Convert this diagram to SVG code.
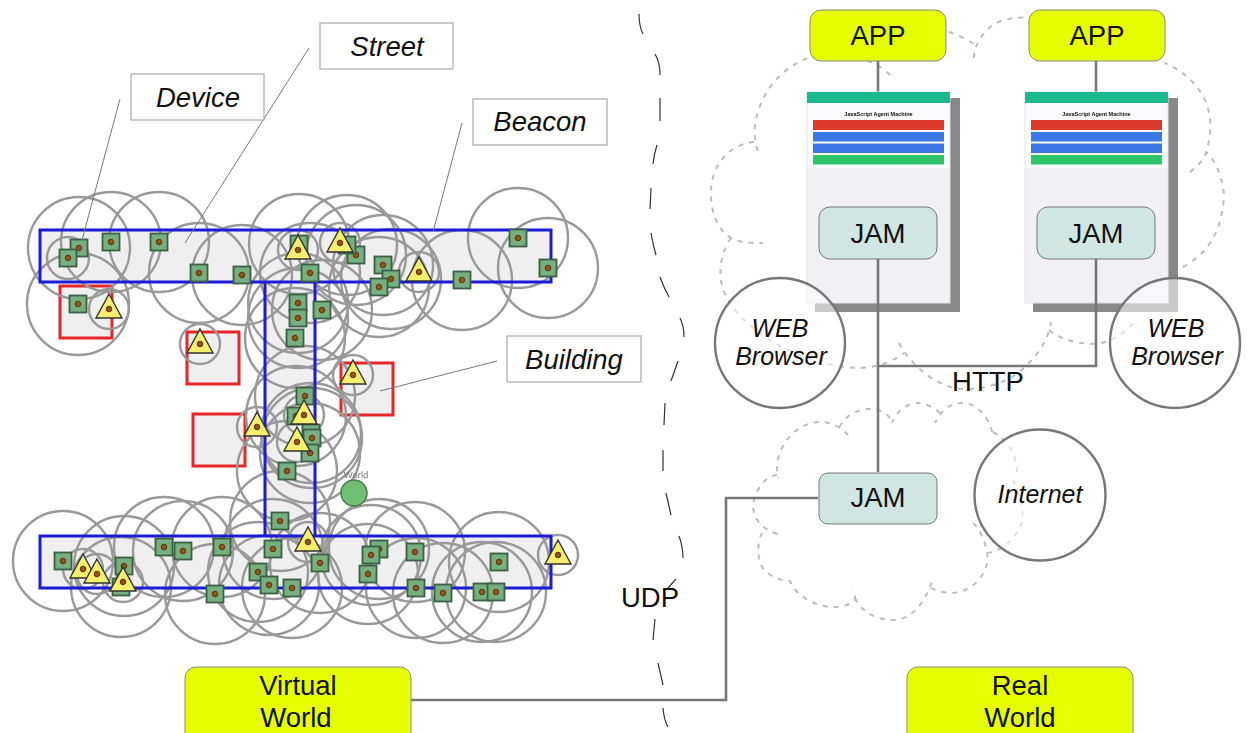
<svg xmlns="http://www.w3.org/2000/svg" width="1247" height="733" viewBox="0 0 1247 733">
<style>
text{font-family:"Liberation Sans",Arial,sans-serif;fill:#111;text-anchor:middle}
.t{font-size:27.5px}.i{font-size:27.5px;font-style:italic}.w{font-size:25px;font-style:italic}
.street{fill:#efefef;stroke:none}.streetline{fill:none;stroke:#1a1ad6;stroke-width:3}
.bld{fill:#efefef;stroke:#e8262a;stroke-width:3}
.rng{fill:none;stroke:#999;stroke-width:2.4}
.lab{fill:#fff;stroke:#aaa;stroke-width:1.2}
.lead{fill:none;stroke:#777;stroke-width:1}
.yb{fill:#e6ff00;stroke:#888;stroke-width:1}
.jam{fill:#cfe6e2;stroke:#777;stroke-width:1}
.con{fill:none;stroke:#777;stroke-width:2.6}
.cloud{fill:none;stroke:#bdbdbd;stroke-width:2;stroke-dasharray:5 6}
.div{fill:none;stroke:#333;stroke-width:1.2}
.big{fill:rgba(255,255,255,.55);stroke:#777;stroke-width:2.4}
.shadow{fill:#888}
</style>
<defs>
<filter id="soft" x="-5%" y="-5%" width="110%" height="110%"><feGaussianBlur stdDeviation="0.5"/></filter>
<g id="dev"><rect x="-8.5" y="-8.5" width="17" height="17" fill="#74b07e" stroke="#3a6045" stroke-width="1.8"/><circle r="2.8" fill="#8a5a12" stroke="#6b2a18" stroke-width="1"/></g>
<g id="bea"><path d="M0-15L13 9H-13Z" fill="#f6ef6e" stroke="#333" stroke-width="1.4"/><circle r="2.8" fill="#8a5a12" stroke="#6b2a18" stroke-width="1"/></g>
<g id="screen">
<rect x="8" y="6" width="145" height="214" class="shadow"/>
<g filter="url(#soft)">
<rect x="0" y="0" width="143" height="211" fill="#f0f0f5" stroke="#e2e2e6"/>
<rect x="0.5" y="10" width="142" height="66" fill="#fafafc"/>
<rect x="0" y="0" width="143" height="11" fill="#1ab88e"/>
<text x="71.500" y="23.500" style="font-size:5.500px;font-weight:bold" fill="#333">JavaScript Agent Machine</text>
<rect x="6" y="28" width="131" height="10" fill="#dd3a2e"/>
<rect x="6" y="40" width="131" height="9.500" fill="#3b78e6"/>
<rect x="6" y="51.500" width="131" height="9.500" fill="#3b78e6"/>
<rect x="6" y="63" width="131" height="9.500" fill="#2dc46b"/>
</g>
</g>
</defs>
<rect width="1247" height="733" fill="#fff"/>

<g id="world" filter="url(#soft)">
<g id="streets">
<rect class="street" x="40" y="230" width="511" height="52"/>
<rect class="street" x="265" y="282" width="50" height="254"/>
<rect class="street" x="40" y="536" width="511" height="52"/>
</g>
<g id="buildings">
<rect class="bld" x="60" y="286" width="52" height="52"/>
<rect class="bld" x="187" y="332" width="52" height="52"/>
<rect class="bld" x="341" y="363" width="52" height="52"/>
<rect class="bld" x="193" y="414" width="52" height="52"/>
</g>
<g id="ranges" class="rng">
<circle cx="79" cy="248" r="51"/><circle cx="68" cy="258" r="21"/><circle cx="111" cy="242" r="50"/><circle cx="159" cy="242" r="50"/><circle cx="199" cy="273" r="50"/><circle cx="242" cy="275" r="50"/><circle cx="78" cy="304" r="51"/><circle cx="109" cy="309" r="20"/><circle cx="200" cy="344" r="20"/>
<circle cx="298" cy="250" r="20"/><circle cx="299" cy="244" r="50"/><circle cx="340" cy="243" r="20"/><circle cx="347" cy="245" r="50"/><circle cx="356" cy="255" r="50"/><circle cx="383" cy="265" r="50"/><circle cx="391" cy="279" r="50"/><circle cx="379" cy="287" r="50"/><circle cx="419" cy="272" r="20"/><circle cx="462" cy="280" r="50"/><circle cx="518" cy="238" r="50"/><circle cx="548" cy="268" r="50"/><circle cx="322" cy="310" r="50"/><circle cx="310" cy="273" r="50"/><circle cx="353" cy="375" r="20"/>
<circle cx="298" cy="303" r="50"/><circle cx="298" cy="318" r="50"/><circle cx="295" cy="338" r="50"/><circle cx="305" cy="396" r="50"/><circle cx="296" cy="416" r="50"/><circle cx="304" cy="415" r="20"/><circle cx="297" cy="442" r="20"/><circle cx="311" cy="433" r="50"/><circle cx="312" cy="438" r="50"/><circle cx="310" cy="453" r="50"/><circle cx="287" cy="471" r="50"/><circle cx="257" cy="427" r="20"/><circle cx="280" cy="521" r="50"/>
<circle cx="63" cy="561" r="50"/><circle cx="83" cy="569" r="20"/><circle cx="97" cy="574" r="20"/><circle cx="124" cy="566" r="50"/><circle cx="123" cy="582" r="20"/><circle cx="121" cy="587" r="50"/><circle cx="164" cy="547" r="50"/><circle cx="183" cy="551" r="50"/><circle cx="222" cy="547" r="50"/><circle cx="215" cy="594" r="50"/><circle cx="273" cy="549" r="50"/><circle cx="258" cy="572" r="50"/><circle cx="269" cy="585" r="50"/><circle cx="292" cy="588" r="50"/><circle cx="308" cy="542" r="20"/>
<circle cx="320" cy="563" r="50"/><circle cx="379" cy="549" r="50"/><circle cx="371" cy="555" r="50"/><circle cx="368" cy="574" r="50"/><circle cx="415" cy="552" r="50"/><circle cx="416" cy="588" r="50"/><circle cx="443" cy="593" r="50"/><circle cx="482" cy="592" r="50"/><circle cx="496" cy="592" r="50"/><circle cx="499" cy="562" r="50"/><circle cx="558" cy="555" r="20"/>
</g>
<g id="street-outlines">
<path class="streetline" d="M265 282V536M315 282V536"/>
<rect class="streetline" x="40" y="230" width="511" height="52"/>
<rect class="streetline" x="40" y="536" width="511" height="52"/>
</g>
<g id="devices">
<use href="#dev" x="79" y="248"/><use href="#dev" x="68" y="258"/><use href="#dev" x="111" y="242"/><use href="#dev" x="159" y="242"/><use href="#dev" x="199" y="273"/><use href="#dev" x="242" y="275"/><use href="#dev" x="78" y="304"/>
<use href="#dev" x="299" y="244"/><use href="#dev" x="356" y="255"/><use href="#dev" x="383" y="265"/><use href="#dev" x="391" y="279"/><use href="#dev" x="379" y="287"/><use href="#dev" x="462" y="280"/><use href="#dev" x="518" y="238"/><use href="#dev" x="548" y="268"/><use href="#dev" x="322" y="310"/><use href="#dev" x="310" y="273"/><use href="#dev" x="347" y="245"/>
<use href="#dev" x="298" y="303"/><use href="#dev" x="298" y="318"/><use href="#dev" x="295" y="338"/><use href="#dev" x="305" y="396"/><use href="#dev" x="296" y="416"/><use href="#dev" x="311" y="433"/><use href="#dev" x="312" y="438"/><use href="#dev" x="310" y="453"/><use href="#dev" x="287" y="471"/><use href="#dev" x="280" y="521"/>
<use href="#dev" x="63" y="561"/><use href="#dev" x="124" y="566"/><use href="#dev" x="121" y="587"/><use href="#dev" x="164" y="547"/><use href="#dev" x="183" y="551"/><use href="#dev" x="222" y="547"/><use href="#dev" x="215" y="594"/><use href="#dev" x="273" y="549"/><use href="#dev" x="258" y="572"/><use href="#dev" x="269" y="585"/><use href="#dev" x="292" y="588"/>
<use href="#dev" x="320" y="563"/><use href="#dev" x="379" y="549"/><use href="#dev" x="371" y="555"/><use href="#dev" x="368" y="574"/><use href="#dev" x="415" y="552"/><use href="#dev" x="416" y="588"/><use href="#dev" x="443" y="593"/><use href="#dev" x="482" y="592"/><use href="#dev" x="496" y="592"/><use href="#dev" x="499" y="562"/>
</g>
<g id="beacons">
<use href="#bea" x="109" y="309"/><use href="#bea" x="200" y="344"/><use href="#bea" x="298" y="250"/><use href="#bea" x="340" y="243"/><use href="#bea" x="419" y="272"/><use href="#bea" x="353" y="375"/><use href="#bea" x="304" y="415"/><use href="#bea" x="297" y="442"/><use href="#bea" x="257" y="427"/><use href="#bea" x="83" y="569"/><use href="#bea" x="97" y="574"/><use href="#bea" x="123" y="582"/><use href="#bea" x="308" y="542"/><use href="#bea" x="558" y="555"/>
</g>
<g id="world-node"><circle cx="354" cy="493" r="13" fill="#6fbf73" stroke="#4a7d50" stroke-width="1.500"/><text x="356" y="478" style="font-size:9.500px;fill:#777">World</text></g>
</g>

<g id="leaders">
<path class="lead" d="M120 99L82 240M309 48L185 243M462 123L433 232M497 361L380 391"/>
</g>
<g id="label-device"><rect class="lab" x="131" y="74" width="133" height="46"/><text class="i" x="198" y="107">Device</text></g>
<g id="label-street"><rect class="lab" x="320" y="23" width="133" height="46"/><text class="i" x="387" y="56">Street</text></g>
<g id="label-beacon"><rect class="lab" x="473" y="99" width="134" height="46"/><text class="i" x="540" y="131">Beacon</text></g>
<g id="label-building"><rect class="lab" x="507" y="336" width="134" height="46"/><text class="i" x="574" y="369">Building</text></g>

<g id="divider">
<path class="div" d="M639 14Q639 26 643 34M655 54Q660 62 660 75M660 98V121M657 145Q654 154 653 164M651 188L650 209M651 233Q653 245 656 255M660 277Q664 288 669 297M680 318Q684 326 684 337M678 361L671 381M665 403L664 425M663 450V471M666 493L671 515M679 536Q683 547 683 558M676 579L668 588M655 619L653 640M658 663L663 685M663 708Q664 720 668 727"/>
</g>

<g id="clouds">
<path class="cloud" d="M890 75C870 55 835 52 811 57C785 65 760 90 755 125C754 135 755 145 759 154M754 142C725 145 710 170 711 195C711 215 720 232 731 238C740 243 752 243 763 243M731 238C722 250 718 270 722 285C730 320 790 365 858 368C875 368 892 362 904 353M899 343C907 358 925 380 954 388C975 392 1000 385 1015 375C1035 360 1048 342 1051 322M1049 330C1060 340 1085 346 1101 343C1115 340 1128 330 1136 320M1183 267C1205 255 1222 235 1224 195C1222 175 1215 160 1206 152M1190 172C1200 165 1206 155 1206 152C1212 135 1212 115 1205 100C1195 80 1180 70 1165 63M974 58C974 45 985 25 1004 20C1012 18 1020 17 1029 18M949 32C958 35 968 40 976 45"/>
<path class="cloud" d="M848 435C842 428 832 422 820 422C805 422 790 432 782 448C777 458 776 470 778 478M777 475C765 476 755 490 753 505C753 518 762 530 778 534M762 533C756 545 757 565 767 573C775 578 782 581 790 581C795 595 815 607 833 607C845 607 855 603 855 598C855 594 853 592 852 590M855 598C860 610 875 620 893 620C910 620 925 605 933 578M931 588C940 593 955 595 965 590C982 582 990 565 987 553C985 540 980 528 970 520M987 553C1000 552 1015 540 1022 523C1024 510 1020 495 1013 480M993 432C1008 440 1017 455 1017 473M992 432C990 420 978 403 963 403C953 403 945 407 940 415C938 418 936 420 935 423M940 413C935 408 925 403 918 403C908 403 897 410 892 423M890 418C885 412 878 409 870 409C858 409 845 415 839 428"/>
</g>

<g id="connectors">
<path class="con" d="M878 61V92M1096 61V92"/>
</g>

<g id="browser-screen-1"><use href="#screen" x="807" y="92"/></g>
<g id="browser-screen-2"><use href="#screen" x="1025" y="92"/></g>

<g id="connectors-2">
<path class="con" d="M878 259V472M1096 259V366H878M818 498H726V700H411"/>
</g>

<g id="app-1"><rect class="yb" x="810" y="10" width="136" height="51" rx="11"/><text class="t" x="878" y="45">APP</text></g>
<g id="app-2"><rect class="yb" x="1029" y="10" width="136" height="51" rx="11"/><text class="t" x="1097" y="45">APP</text></g>
<g id="jam-1"><rect class="jam" x="819" y="207" width="118" height="52" rx="11"/><text class="t" x="878" y="243">JAM</text></g>
<g id="jam-2"><rect class="jam" x="1037" y="207" width="118" height="52" rx="11"/><text class="t" x="1096" y="243">JAM</text></g>
<g id="jam-3"><rect class="jam" x="819" y="473" width="118" height="51" rx="9"/><text class="t" x="878" y="507">JAM</text></g>
<g id="web-1"><circle class="big" cx="780" cy="343" r="65"/><text class="w" x="780" y="337">WEB</text><text class="w" x="781" y="365">Browser</text></g>
<g id="web-2"><circle class="big" cx="1175" cy="343" r="65"/><text class="w" x="1176" y="337">WEB</text><text class="w" x="1177" y="365">Browser</text></g>
<g id="internet"><circle class="big" cx="1040" cy="495" r="65.500"/><text class="w" x="1040" y="503">Internet</text></g>
<g id="http"><text class="t" x="988" y="391">HTTP</text></g>
<g id="udp"><text class="t" x="650" y="607">UDP</text></g>
<g id="virtual-world"><rect class="yb" x="185" y="667" width="226" height="80" rx="11"/><text class="t" x="298" y="695">Virtual</text><text class="t" x="296" y="727">World</text></g>
<g id="real-world"><rect class="yb" x="907" y="667" width="226" height="80" rx="11"/><text class="t" x="1020" y="695">Real</text><text class="t" x="1020" y="727">World</text></g>
</svg>
